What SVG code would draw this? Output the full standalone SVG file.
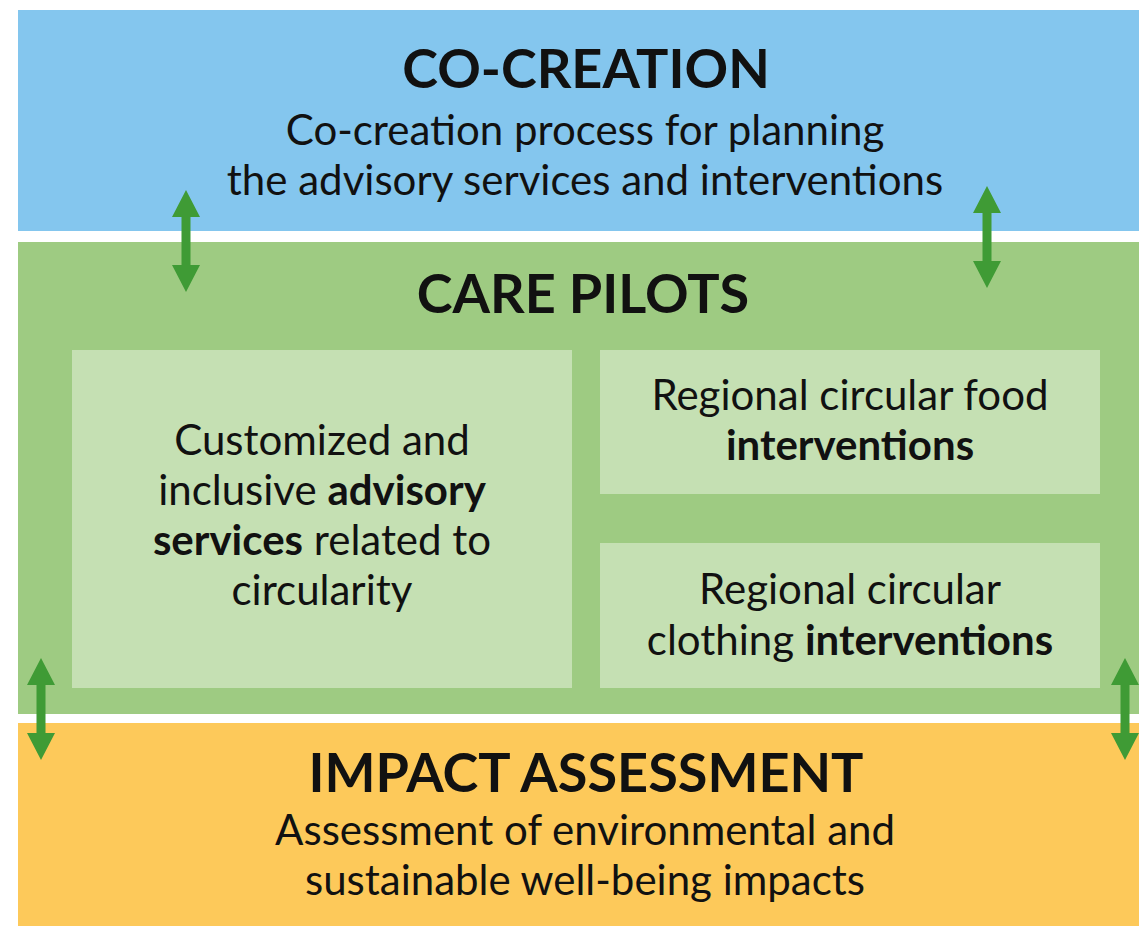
<svg xmlns="http://www.w3.org/2000/svg" width="1139" height="926" viewBox="0 0 1139 926">
<defs>
<style>
.t{font-family:Lato,"Open Sans","Liberation Sans",sans-serif;fill:#111;text-anchor:middle}
.h{font-size:54px;font-weight:bold}
.b{font-size:42px}
.bb{font-weight:bold}
.arr{fill:#3f9b35}
</style>
<path id="dblarrow" d="M0,-51 L14,-24 L4.5,-24 L4.5,24 L14,24 L0,51 L-14,24 L-4.5,24 L-4.5,-24 L-14,-24 Z"/>
</defs>
<rect width="1139" height="926" fill="#ffffff"/>
<g id="co-creation">
<rect x="18" y="10" width="1121" height="221" fill="#84c6ee"/>
<text class="t h" x="586" y="88">CO-CREATION</text>
<text class="t b" x="585" y="145">Co-creation process for planning</text>
<text class="t b" x="585" y="195">the advisory services and interventions</text>
</g>
<g id="care-pilots">
<rect x="18" y="242" width="1121" height="472" fill="#9ecb82"/>
<text class="t h" x="583" y="313">CARE PILOTS</text>
</g>
<g id="advisory-services">
<rect x="72" y="350" width="500" height="338" fill="#c5e0b3"/>
<text class="t b" x="322" y="455">Customized and</text>
<text class="t b" x="322" y="505">inclusive <tspan class="bb">advisory</tspan></text>
<text class="t b" x="322" y="555"><tspan class="bb">services</tspan> related to</text>
<text class="t b" x="322" y="605">circularity</text>
</g>
<g id="food-interventions">
<rect x="600" y="350" width="500" height="144" fill="#c5e0b3"/>
<text class="t b" x="850" y="410">Regional circular food</text>
<text class="t b bb" x="850" y="460">interventions</text>
</g>
<g id="clothing-interventions">
<rect x="600" y="543" width="500" height="145" fill="#c5e0b3"/>
<text class="t b" x="850" y="604">Regional circular</text>
<text class="t b" x="850" y="655">clothing <tspan class="bb">interventions</tspan></text>
</g>
<g id="impact-assessment">
<rect x="18" y="723" width="1121" height="203" fill="#fdc95a"/>
<text class="t h" x="586" y="792">IMPACT ASSESSMENT</text>
<text class="t b" x="585" y="845">Assessment of environmental and</text>
<text class="t b" x="585" y="895">sustainable well-being impacts</text>
</g>
<g id="connectors">
<use href="#dblarrow" class="arr" x="186" y="241"/>
<use href="#dblarrow" class="arr" x="987" y="237"/>
<use href="#dblarrow" class="arr" x="41" y="709"/>
<use href="#dblarrow" class="arr" x="1125" y="709"/>
</g>
</svg>
